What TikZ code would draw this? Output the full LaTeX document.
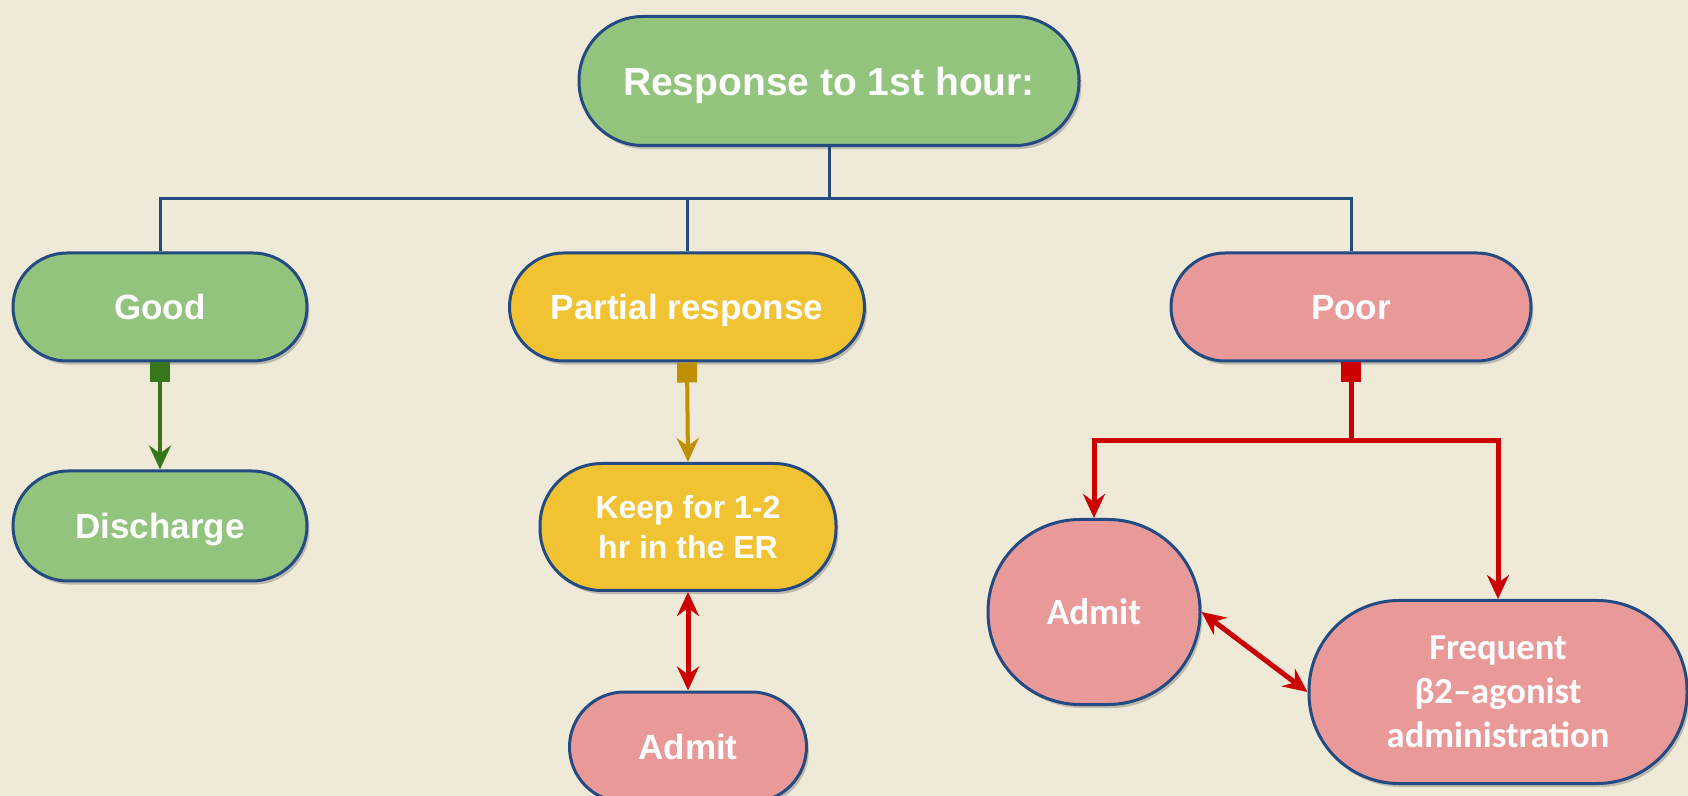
\documentclass[tikz,border=0pt]{standalone}
\usepackage{fontspec}
\setmainfont{Liberation Sans}
\newfontfamily\calfont{Carlito}
\usetikzlibrary{arrows.meta, positioning, shadows}
\definecolor{paper}{HTML}{EFE9D8}
\definecolor{edge}{HTML}{234B82}
\definecolor{goodfill}{HTML}{93C47D}
\definecolor{partfill}{HTML}{F1C232}
\definecolor{poorfill}{HTML}{EA9999}
\definecolor{goodline}{HTML}{38761D}
\definecolor{partline}{HTML}{BF9000}
\definecolor{poorline}{HTML}{CC0000}

\begin{document}
\begin{tikzpicture}[
  x=0.5pt, y=-0.5pt,
  pill/.style={draw=edge, line width=1.5pt, inner sep=0pt, text=white,
               align=center, font=\fontsize{17.5}{21}\selectfont\bfseries,
               drop shadow={shadow xshift=1.2pt, shadow yshift=-1.8pt,
                            opacity=0.3, fill=black!70}},
  oneline/.style={text depth=0pt},
  bus/.style={draw=edge, line width=1.5pt},
  tip/.style={-{Stealth[length=12pt, width=11pt, inset=4pt]}},
  both/.style={{Stealth[length=12pt, width=11pt, inset=4pt]}-{Stealth[length=12pt, width=11pt, inset=4pt]}},
  sq/.style={{Square[length=10pt, width=10pt]}-},
  sqtip/.style={{Square[length=10pt, width=10pt]}-{Stealth[length=12pt, width=11pt, inset=4pt]}}
]
  \fill[paper] (0,0) rectangle (1688,796);
  \useasboundingbox (0,0) rectangle (1688,796);

  % Top: question
  \node[pill, oneline, fill=goodfill, minimum width=250pt, minimum height=64.5pt,
        rounded corners=32pt, font=\fontsize{19.5}{23}\selectfont\bfseries]
    (hour) at (829,81) {Response to 1st hour:};

  % Responses
  \node[pill, oneline, fill=goodfill, minimum width=147pt, minimum height=54pt,
        rounded corners=27pt] (good) at (160,307) {Good};
  \node[pill, oneline, fill=partfill, minimum width=177.5pt, minimum height=54pt,
        rounded corners=27pt] (partial) at (687,307) {Partial response};
  \node[pill, oneline, fill=poorfill, minimum width=180pt, minimum height=54pt,
        rounded corners=27pt] (poor) at (1351,307) {Poor};

  % Actions
  \node[pill, oneline, fill=goodfill, minimum width=147pt, minimum height=55pt,
        rounded corners=27.5pt] (discharge) at (160,526) {Discharge};
  \node[pill, fill=partfill, minimum width=148pt, minimum height=63.5pt,
        rounded corners=31pt, font=\fontsize{16}{20}\selectfont\bfseries]
    (keep) at (688,527) {Keep for 1-2\\hr in the ER};
  \node[pill, oneline, fill=poorfill, minimum width=118.5pt, minimum height=55pt,
        rounded corners=27.5pt] (admitmid) at (688,747) {Admit};
  \node[pill, oneline, fill=poorfill, minimum width=106pt, minimum height=92.5pt,
        rounded corners=46pt, font=\calfont\fontsize{18.5}{22}\selectfont\bfseries]
    (admitright) at (1094,612) {Admit};
  \node[pill, fill=poorfill, minimum width=189pt, minimum height=91.5pt,
        rounded corners=45pt, font=\calfont\fontsize{18.3}{22}\selectfont\bfseries]
    (frequent) at (1498,692) {Frequent\\β2–agonist\\administration};

  % Bus from the question
  \coordinate (fork) at (829,199);
  \draw[bus] (hour.south) -- (fork);
  \draw[bus] (fork) -| (good.north);
  \draw[bus] (fork) -| (partial.north);
  \draw[bus] (fork) -| (poor.north);

  % Green and gold paths
  \draw[goodline, line width=2pt, sqtip] (good.south) -- (discharge.north);
  \draw[partline, line width=2pt, sqtip] (partial.south) -- (keep.north);
  \draw[poorline, line width=2.5pt, both] (keep.south) -- (admitmid.north);

  % Poor splits in two
  \coordinate (split) at (1351,441);
  \draw[poorline, line width=2.5pt, sq] (poor.south) -- (split);
  \draw[poorline, line width=2.5pt, tip] (split) -| (admitright.north);
  \draw[poorline, line width=2.5pt, tip] (split) -| (frequent.north);
  \draw[poorline, line width=2.5pt, both] (admitright.east) -- (frequent.west);
\end{tikzpicture}
\end{document}
